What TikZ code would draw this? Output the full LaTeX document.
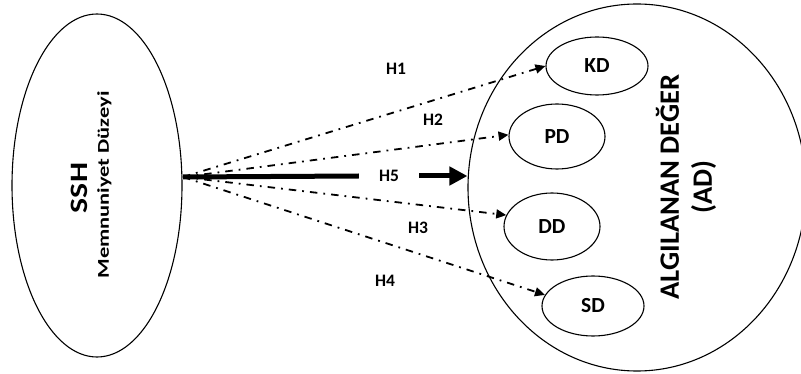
\documentclass[tikz,border=0pt]{standalone}
\usepackage{fontspec}
\setmainfont{Carlito}
\usetikzlibrary{shapes.geometric,arrows.meta}
\tikzset{
  oval/.style={ellipse,draw,line width=1.1pt,inner sep=0pt},
  sub/.style={oval,font=\fontsize{21.5}{24}\selectfont\bfseries},
  hlab/.style={font=\fontsize{17.5}{20}\selectfont\bfseries,inner sep=0pt},
  dd/.style={line width=1.8pt,dash pattern=on 7.5pt off 6pt on 1.8pt off 6pt,
    -{Triangle[length=10pt,width=9pt]}},
}
\begin{document}
\begin{tikzpicture}[x=1pt,y=-1pt]
\useasboundingbox (0,0) rectangle (801,374);
\clip (0,0) rectangle (801,374);
% big shapes
\node[oval,minimum width=170,minimum height=343] (ssh) at (97,185.5) {};
\node[oval,minimum width=338,minimum height=367] (ad) at (637,187.5) {};
\node[sub,minimum width=102,minimum height=58] (kd) at (597,66) {KD};
\node[sub,minimum width=96,minimum height=65] (pd) at (557,136.5) {PD};
\node[sub,minimum width=96,minimum height=67] (ddn) at (552,226.5) {DD};
\node[sub,minimum width=102,minimum height=60] (sd) at (593,306) {SD};
% texts
\node[rotate=90,font=\fontsize{25}{28}\selectfont\bfseries,inner sep=0pt] (sshtxt) at (79,188) {\scalebox{1.27}[1]{SSH}};
\node[rotate=90,font=\fontsize{16.5}{19}\selectfont\bfseries,inner sep=0pt] (memn) at (104.5,185) {\scalebox{1.36}[1]{Memnuniyet Düzeyi}};
\node[rotate=90,align=center,font=\fontsize{28}{33}\selectfont\bfseries,inner sep=0pt] (adtxt) at (686,187) {\scalebox{1.02}[1]{ALGILANAN DEĞER}\\\scalebox{1.02}[1]{(AD)}};
% start point
\coordinate (o) at (183,177);
% labels
\node[hlab] (h1) at (396,69) {H1};
\node[hlab] (h2) at (433,120) {H2};
\node[hlab] (h3) at (418,228) {H3};
\node[hlab] (h4) at (385,281) {H4};
\node[hlab,minimum width=60] (h5) at (389,176) {H5};
% connectors
\draw[dd] (o) -- (kd.west);
\draw[dd] (o) -- (pd.178);
\draw[dd] (o) -- (ddn.166);
\draw[dd] (o) -- (sd.167);
\draw[line width=5pt] (o) -- (h5.west);
\draw[line width=5pt,-{Triangle[length=18pt,width=18pt]}] (h5.east) -- (h5.east -| ad.west);
\end{tikzpicture}
\end{document}
